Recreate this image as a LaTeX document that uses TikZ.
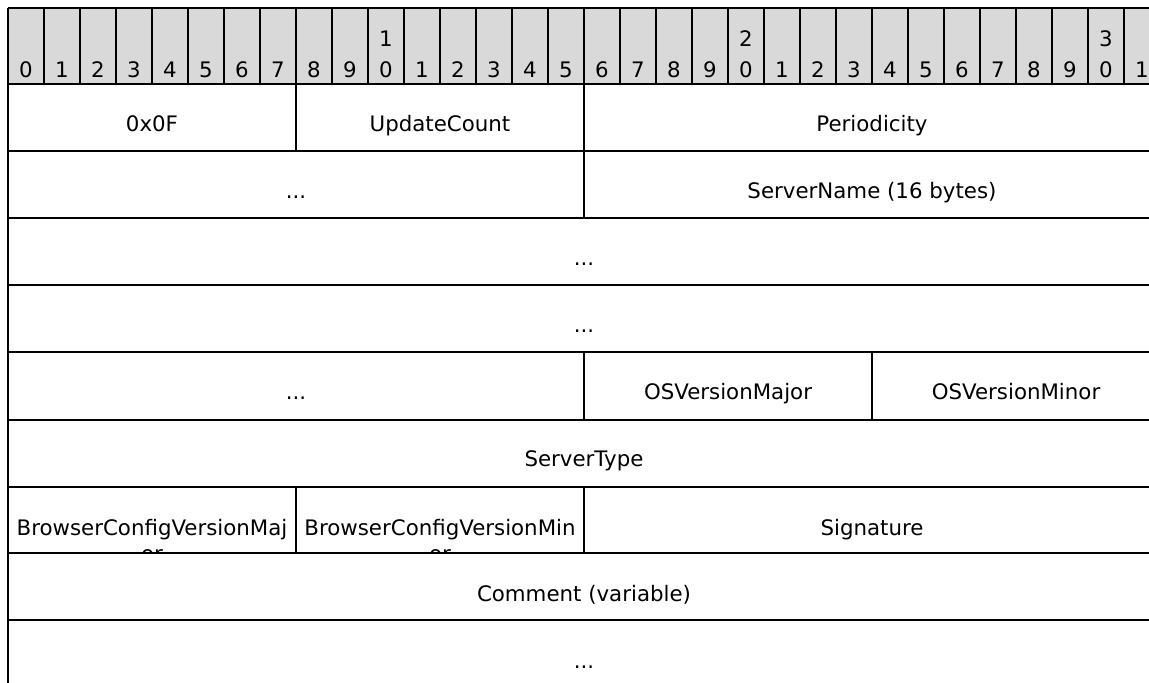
\documentclass[tikz,border=0pt]{standalone}
\usepackage{fontspec}
\setmainfont{DejaVu Sans}
\definecolor{hdrgray}{HTML}{D9D9D9}
\begin{document}
\begin{tikzpicture}[x=0.75pt,y=-0.75pt,
  rule/.style={line width=1.5pt, black},
  lbl/.style={inner sep=0pt, anchor=base, font=\fontsize{16}{19}\selectfont}]
\clip (0,0) rectangle (1149,682);
\fill[white] (0,0) rectangle (1149,682);
% header
\fill[hdrgray] (8,7.5) rectangle (1170,84);
\foreach \k in {1,...,31}
  \draw[rule] ({8+36*\k},7.5) -- ({8+36*\k},84);
\foreach \k in {0,...,31}{
  \pgfmathtruncatemacro\u{mod(\k,10)}
  \node[lbl] (bit\k) at ({26+36*\k},77) {\u};
}
\node[lbl] (ten1) at ({26+36*10},46) {1};
\node[lbl] (ten2) at ({26+36*20},46) {2};
\node[lbl] (ten3) at ({26+36*30},46) {3};
% outer lines
\draw[rule] (8,7.5) -- (1170,7.5);
\draw[rule] (8,7.5) -- (8,690);
\foreach \y in {84,151,218,285,352,420,487,553,620}
  \draw[rule] (8,\y) -- (1170,\y);
% field separators
\draw[rule] (296,84) -- (296,151);
\draw[rule] (584,84) -- (584,151);
\draw[rule] (584,151) -- (584,218);
\draw[rule] (584,352) -- (584,420);
\draw[rule] (872,352) -- (872,420);
\draw[rule] (296,487) -- (296,553);
\draw[rule] (584,487) -- (584,553);
% field labels
\node[lbl] (f1) at (152,131) {0x0F};
\node[lbl] (f2) at (440,131) {UpdateCount};
\node[lbl] (f3) at (872,131) {Periodicity};
\node[lbl] (f4) at (296,198) {...};
\node[lbl] (f5) at (872,198) {ServerName (16 bytes)};
\node[lbl] (f6) at (584,265) {...};
\node[lbl] (f7) at (584,332) {...};
\node[lbl] (f8) at (296,399) {...};
\node[lbl] (f9) at (728,399) {OSVersionMajor};
\node[lbl] (f10) at (1016,399) {OSVersionMinor};
\node[lbl] (f11) at (584,466) {ServerType};
\begin{scope}
  \clip (9,488) rectangle (295,552.5);
  \node[lbl] (f12a) at (152,535) {BrowserConfigVersionMaj};
  \node[lbl] (f12b) at (152,561) {or};
\end{scope}
\begin{scope}
  \clip (297,488) rectangle (583,552.5);
  \node[lbl] (f13a) at (440,535) {BrowserConfigVersionMin};
  \node[lbl] (f13b) at (440,561) {or};
\end{scope}
\node[lbl] (f14) at (872,535) {Signature};
\node[lbl] (f15) at (584,601) {Comment (variable)};
\node[lbl] (f16) at (584,668) {...};
\end{tikzpicture}
\end{document}
